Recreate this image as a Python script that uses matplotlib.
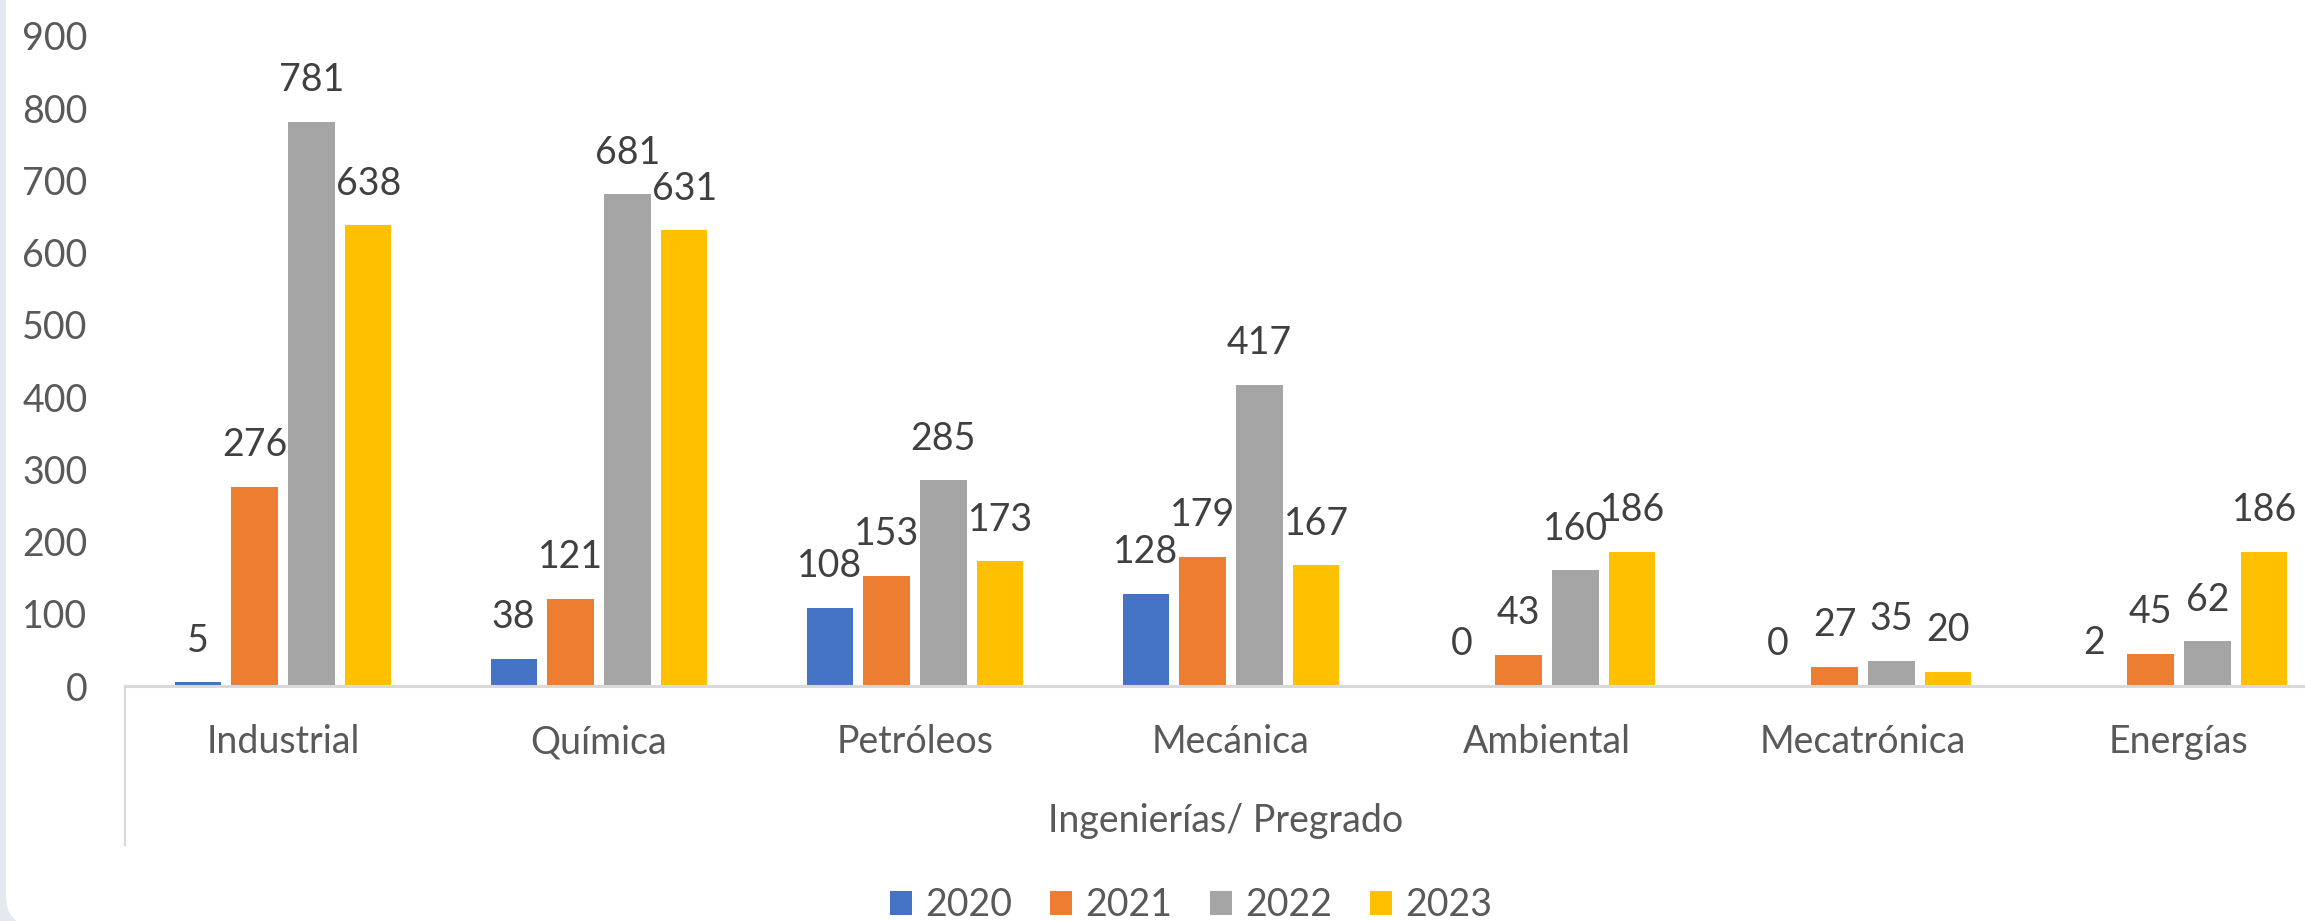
import numpy as np
import matplotlib
matplotlib.use('Agg')
import matplotlib.pyplot as plt
from matplotlib.patches import FancyBboxPatch
from matplotlib.lines import Line2D
from matplotlib.transforms import blended_transform_factory

plt.rcParams['font.family'] = ['Lato', 'DejaVu Sans']

carreras = ['Industrial', 'Química', 'Petróleos', 'Mecánica', 'Ambiental', 'Mecatrónica', 'Energías']
anios = ['2020', '2021', '2022', '2023']
v2020 = [5, 38, 108, 128, 0, 0, 2]
v2021 = [276, 121, 153, 179, 43, 27, 45]
v2022 = [781, 681, 285, 417, 160, 35, 62]
v2023 = [638, 631, 173, 167, 186, 20, 186]
series = [v2020, v2021, v2022, v2023]
colores = ['#4472C4', '#ED7D31', '#A5A5A5', '#FFC000']

W, H = 2305, 921
fs = 27
fig = plt.figure(figsize=(W / 100, H / 100), dpi=100)
fig.patch.set_facecolor('#e6e8ef')

# panel blanco con esquina redondeada (marco de la captura)
panel = FancyBboxPatch((0.06, -0.05), 30, 20, boxstyle='round,pad=0,rounding_size=0.3',
                       transform=fig.dpi_scale_trans, facecolor='white', edgecolor='none', zorder=-5)
fig.patches.append(panel)

ax = fig.add_axes([125 / W, 1 - 686 / H, 2212 / W, 650 / H])
ax.set_facecolor('none')
ax.set_zorder(2)

x = np.arange(len(carreras))
paso = 0.18
ancho = 0.146
txt = '#595959'

for i, vals in enumerate(series):
    pos = x + (i - 1.5) * paso
    ax.bar(pos, vals, width=ancho, color=colores[i], label=anios[i], zorder=2)
    for p, v in zip(pos, vals):
        ax.annotate(str(v), (p, v), xytext=(0, 22), textcoords='offset points',
                    ha='center', va='baseline', fontsize=fs, color='#404040')

ax.set_xlim(-0.5, 6.5)
ax.set_ylim(0, 900)
ax.set_yticks(range(0, 1000, 100))
ax.tick_params(axis='y', length=0, pad=27, labelsize=fs, labelcolor=txt)
ax.set_xticks([])
for s in ['top', 'right', 'left']:
    ax.spines[s].set_visible(False)
ax.spines['bottom'].set_color('#d9d9d9')
ax.spines['bottom'].set_linewidth(2.2)

trans = blended_transform_factory(ax.transData, fig.transFigure)
for xi, c in zip(x, carreras):
    ax.text(xi, 1 - 753 / H, c, transform=trans, ha='center', va='baseline',
            fontsize=fs, color=txt)

fig.text(1226 / W, 1 - 832 / H, 'Ingenierías/ Pregrado', ha='center', va='baseline',
         fontsize=fs, color=txt)

# linea divisoria del eje de categorias
fig.add_artist(Line2D([125 / W, 125 / W], [1 - 686 / H, 1 - 845 / H],
                      color='#d9d9d9', linewidth=1.6, transform=fig.transFigure))

leg = fig.legend(loc='center', bbox_to_anchor=(1191 / W, 1 - 905 / H), ncol=4, frameon=False,
                 fontsize=fs, handlelength=0.6, handleheight=0.6, handletextpad=0.35,
                 columnspacing=1.0, borderpad=0, borderaxespad=0)
for t in leg.get_texts():
    t.set_color(txt)

fig.savefig('out.png', dpi=100, facecolor=fig.get_facecolor())
